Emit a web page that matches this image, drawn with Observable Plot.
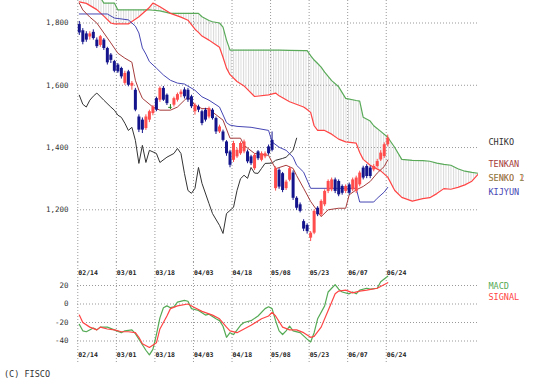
<!DOCTYPE html>
<html><head><meta charset="utf-8">
<script src="https://cdn.jsdelivr.net/npm/d3@7"></script>
<script src="https://cdn.jsdelivr.net/npm/@observablehq/plot@0.6"></script>
<style>
html,body{margin:0;padding:0;background:#fff;}
#chart{position:relative;width:538px;height:385px;overflow:hidden;font-family:"DejaVu Sans Mono",monospace;}
#chart svg{position:absolute;left:0;}
#copy{position:absolute;left:4px;top:369px;font-size:8.5px;color:#333;white-space:pre;}
</style></head><body><div id="chart"><div id="copy">(C) FISCO</div></div>
<script>
// ---- data ----
const tickDays = [0, 11, 22, 33, 44, 55, 66, 77, 88];
const tickLabels = ["02/14","03/01","03/18","04/03","04/18","05/08","05/23","06/07","06/24"];
const priceTicks = [1200, 1400, 1600, 1800];
const macdTicks = [-40, -20, 0, 20];

const opens = [1795,1775,1765,1755,1770,1745,1728,1745,1718,1697, 1676,1665,1654,1606,1643,1597,1584,1498,1488,1461, 1488,1509,1557,1552,1590,1568,1529,1536,1552,1570, 1585,1584,1563,1515,1530,1515,1520,1498,1520,1493, 1450,1450,1418,1386,1359,1370,1380,1386,1386,1370, 1332,1386,1359,1370,1402,1423,1268,1327,1316,1268, 1295,1318,1237,1216,1162,1150,1109,1125,1205,1184, 1216,1259,1264,1296,1291,1275,1259,1280,1264,1259, 1280,1334,1339,1334,1328,1339,1360,1371,1409];
const closes = [1768,1738,1745,1765,1750,1724,1756,1718,1672,1680, 1645,1643,1627,1638,1600,1606,1520,1456,1456,1498, 1515,1530,1520,1590,1552,1541,1529,1557,1570,1578, 1563,1552,1531,1536,1520,1477,1488,1525,1493,1450, 1466,1423,1380,1343,1413,1391,1413,1418,1354,1348, 1375,1364,1380,1380,1380,1391,1332,1273,1262,1289, 1332,1237,1205,1195,1138,1130,1125,1195,1184,1227, 1259,1291,1296,1259,1248,1253,1275,1253,1296,1302, 1318,1302,1307,1307,1339,1355,1382,1409,1430];
const highs = [1805,1782,1772,1772,1778,1752,1760,1750,1722,1702, 1680,1670,1658,1645,1648,1612,1590,1505,1495,1505, 1520,1535,1562,1595,1596,1572,1538,1562,1575,1585, 1592,1590,1568,1542,1536,1520,1526,1530,1525,1498, 1472,1456,1422,1391,1420,1398,1418,1424,1392,1375, 1380,1390,1386,1386,1408,1450,1338,1332,1320,1295, 1338,1325,1242,1222,1168,1155,1130,1200,1210,1232, 1264,1296,1302,1302,1296,1280,1280,1286,1302,1308, 1324,1340,1345,1340,1345,1362,1390,1415,1440];
const lows = [1760,1730,1738,1745,1745,1718,1722,1712,1665,1670, 1640,1638,1620,1600,1595,1584,1515,1448,1445,1455, 1480,1502,1515,1545,1548,1535,1522,1530,1546,1560, 1556,1545,1525,1504,1512,1470,1482,1492,1488,1442, 1445,1418,1372,1335,1352,1365,1375,1380,1348,1342, 1326,1358,1354,1364,1375,1386,1260,1266,1255,1262, 1290,1230,1198,1190,1130,1122,1098,1120,1178,1178, 1210,1252,1258,1252,1242,1247,1252,1247,1258,1252, 1274,1296,1300,1300,1322,1334,1355,1365,1402];

const tenkan = [[0,1864],[1,1842],[3,1819],[5,1800],[7,1768],[9,1736],[11,1703],[13,1687],[15,1674],[16,1616],[17,1584],[18,1558],[21,1530],[23,1520],[26,1520],[28,1530],[30,1552],[31,1563],[33,1536],[35,1525],[37,1525],[38,1514],[41,1488],[43,1430],[46,1430],[47,1407],[50,1381],[54,1375],[55,1353],[56,1332],[59,1343],[61,1333],[62,1310],[64,1269],[66,1227],[68,1195],[69,1178],[71,1200],[74,1205],[76,1205],[77,1248],[79,1264],[81,1275],[83,1291],[85,1318],[87,1339],[88,1360]];
const kijun = [[0,1829],[8,1829],[10,1816],[14,1810],[16,1790],[17,1768],[18,1720],[19,1700],[20,1676],[22,1655],[24,1633],[26,1616],[28,1607],[30,1604],[33,1584],[35,1563],[37,1552],[40,1530],[42,1480],[43,1472],[45,1468],[49,1465],[54,1455],[55,1418],[57,1401],[59,1391],[61,1369],[62,1343],[64,1321],[66,1269],[79,1269],[80,1225],[84,1225],[85,1237],[87,1257],[88,1272]];
const chikou = [[0,1568],[1,1539],[2,1530],[3,1552],[4,1565],[5,1575],[7,1552],[9,1530],[10,1520],[11,1504],[12,1497],[13,1478],[14,1455],[15,1465],[16,1423],[17,1349],[18,1407],[19,1352],[20,1391],[22,1381],[23,1352],[25,1369],[27,1381],[28,1397],[29,1381],[30,1317],[31,1262],[32,1253],[33,1269],[34,1336],[35,1285],[37,1220],[38,1188],[40,1150],[41,1124],[42,1188],[44,1208],[45,1262],[46,1300],[47,1311],[48,1301],[49,1336],[50,1318],[51,1317],[52,1333],[53,1349],[55,1350],[56,1359],[58,1365],[59,1369],[61,1391],[62,1430]];

const spanDays = [0,2,5,7,9,10,11,14,17,20,21,23,26,29,31,33,34,35,37,38,40,41,42,43,45,47,50,54,56,57,60,64,65,66,67,68,69,70,72,74,76,79,80,81,83,84,86,88,90,92,95,98,100,102,104,106,108,110,112,114];
const senkouA = [1868,1863,1843,1822,1800,1797,1797,1797,1820,1850,1864,1852,1831,1819,1809,1780,1770,1758,1745,1737,1722,1690,1655,1634,1612,1598,1564,1569,1575,1566,1547,1530,1522,1513,1470,1455,1455,1455,1443,1427,1418,1414,1384,1362,1343,1337,1325,1305,1262,1240,1228,1236,1239,1252,1268,1266,1272,1280,1292,1317];
const senkouB = [1900,1900,1900,1864,1864,1864,1842,1842,1842,1842,1841,1839,1831,1831,1831,1831,1831,1820,1808,1804,1800,1787,1745,1713,1713,1713,1713,1713,1713,1713,1712,1711,1711,1695,1681,1670,1658,1642,1615,1595,1558,1551,1549,1497,1485,1470,1452,1433,1400,1362,1359,1358,1356,1350,1346,1343,1332,1324,1320,1317];

const macd = [[0,-22],[1,-29],[2,-30],[4,-26],[5,-28],[6,-25],[8,-25],[10,-28],[12,-31],[13,-29],[15,-28],[16,-32],[18,-44],[19,-50],[20,-55],[21,-49],[22,-33],[23,-15],[24,-4],[25,-2],[26,-4],[27,-3],[28,2],[30,4],[31,3],[32,-5],[34,-7],[36,-12],[37,-11],[39,-16],[40,-18],[41,-24],[42,-36],[43,-31],[44,-33],[46,-23],[47,-20],[49,-18],[51,-13],[53,-5],[54,-3],[55,-5],[56,-18],[57,-29],[58,-33],[59,-29],[60,-24],[61,-29],[63,-31],[65,-38],[66,-41],[67,-31],[68,-16],[70,-2],[71,13],[72,17],[73,21],[74,16],[75,13],[77,11],[78,13],[79,11],[80,15],[82,17],[83,16],[85,17],[86,24],[88,30]];
const signal = [[0,-12],[1,-20],[3,-25],[5,-28],[6,-25],[8,-27],[10,-28],[12,-30],[14,-30],[16,-31],[17,-36],[18,-43],[20,-47],[22,-42],[23,-27],[25,-13],[26,-5],[28,-2],[31,0],[33,-4],[35,-8],[38,-12],[40,-16],[42,-25],[43,-29],[45,-31],[47,-27],[49,-23],[52,-16],[54,-13],[55,-9],[56,-13],[58,-25],[60,-28],[62,-28],[64,-31],[66,-36],[67,-35],[69,-25],[71,-7],[73,11],[74,14],[76,15],[78,12],[80,14],[82,15],[85,17],[88,23]];

// ---- tables ----
const candles = opens.map((o, i) => ({day: i, open: o, close: closes[i], high: highs[i], low: lows[i]}));
const cloud = spanDays.map((d, i) => ({day: d, a: senkouA[i], b: senkouB[i]}));

// ---- styles ----
const C = {up: "#ff4d4d", down: "#14148c", doji: "#207a20", tenkan: "#a63c3c", kijun: "#4646b4",
           chikou: "#333333", spanA: "#ff4444", spanB: "#5aaa5a", macd: "#55aa55", signal: "#ff4444"};
const font = "DejaVu Sans Mono";
const grid = {stroke: "#999", strokeOpacity: 1, strokeDasharray: "1,2", strokeWidth: 1};
const xScale = {type: "linear", domain: [0, 114], range: [78.8, 78.8 + 3.505 * 114], axis: null};
const candleColor = d => d.close > d.open ? C.up : d.close < d.open ? C.down : C.doji;

const main = Plot.plot({
  width: 538, height: 262, marginTop: 0, marginBottom: 0, marginLeft: 77, marginRight: 60,
  x: xScale,
  y: {domain: [1200, 1800], range: [209.3, 22.5], axis: null},
  style: {fontFamily: font, background: "transparent", overflow: "visible"},
  marks: [
    Plot.areaY(cloud, {x: "day", y1: "a", y2: "b", fill: "url(#kumoHatch)", clip: true}),
    Plot.ruleY(priceTicks, {y: d => d, ...grid}),
    Plot.ruleX(tickDays, {x: d => d, dx: -1.5, ...grid}),
    Plot.line(cloud, {x: "day", y: "b", stroke: C.spanB, strokeWidth: 1.2, clip: true}),
    Plot.line(cloud, {x: "day", y: "a", stroke: C.spanA, strokeWidth: 1.2, clip: true}),
    Plot.line(chikou, {x: d => d[0], y: d => d[1], stroke: C.chikou, strokeWidth: 1}),
    Plot.line(kijun, {x: d => d[0], y: d => d[1], stroke: C.kijun, strokeWidth: 1}),
    Plot.line(tenkan, {x: d => d[0], y: d => d[1], stroke: C.tenkan, strokeWidth: 1}),
    Plot.ruleX(candles, {x: "day", y1: "low", y2: "high", stroke: candleColor, strokeWidth: 1}),
    Plot.ruleX(candles, {x: "day", y1: "open", y2: "close", stroke: candleColor, strokeWidth: 3}),
    Plot.ruleY(candles.filter(d => d.open === d.close), {y: "close", x1: d => d.day - 0.5, x2: d => d.day + 0.5, stroke: C.doji, strokeWidth: 1}),
    Plot.text(priceTicks, {y: d => d, text: d => d3.format(",")(d), frameAnchor: "left", textAnchor: "end", dx: -9, fontSize: 7.5, fill: "#333"}),
    Plot.text(["CHIKO"], {frameAnchor: "top-right", textAnchor: "start", dx: 10, dy: 138.5, fontSize: 8.5, fill: C.chikou}),
    Plot.text(["TENKAN"], {frameAnchor: "top-right", textAnchor: "start", dx: 10, dy: 160, fontSize: 8.5, fill: C.tenkan}),
    Plot.text(["SENKO 1"], {frameAnchor: "top-right", textAnchor: "start", dx: 10, dy: 174, fontSize: 8.5, fill: C.spanA}),
    Plot.text(["SENKO 2"], {frameAnchor: "top-right", textAnchor: "start", dx: 10, dy: 174, fontSize: 8.5, fill: C.spanB, fillOpacity: 0.75}),
    Plot.text(["KIJYUN"], {frameAnchor: "top-right", textAnchor: "start", dx: 10, dy: 188.5, fontSize: 8.5, fill: C.kijun})
  ]
});

// hatch pattern for the cloud: thin light-grey vertical lines
const defs = d3.select(main).insert("defs", ":first-child");
const pat = defs.append("pattern").attr("id", "kumoHatch").attr("patternUnits", "userSpaceOnUse")
  .attr("x", 78).attr("y", 0).attr("width", 2.5).attr("height", 4);
pat.append("rect").attr("x", 0).attr("y", 0).attr("width", 1).attr("height", 4).attr("fill", "#dadada");

const lower = Plot.plot({
  width: 538, height: 100, marginTop: 0, marginBottom: 0, marginLeft: 77, marginRight: 60,
  x: xScale,
  y: {domain: [-40, 20], range: [78.5, 23], axis: null},
  style: {fontFamily: font, background: "transparent", overflow: "visible"},
  marks: [
    Plot.ruleY(macdTicks, {y: d => d, ...grid}),
    Plot.ruleX(tickDays, {x: d => d, dx: -1.5, ...grid}),
    Plot.line(macd, {x: d => d[0], y: d => d[1], stroke: C.macd, strokeWidth: 1.2}),
    Plot.line(signal, {x: d => d[0], y: d => d[1], stroke: C.signal, strokeWidth: 1.2}),
    Plot.text(macdTicks, {y: d => d, text: d => String(d), frameAnchor: "left", textAnchor: "end", dx: -9, fontSize: 7.5, fill: "#333"}),
    Plot.text(tickDays, {x: d => d, text: (d, i) => tickLabels[i], frameAnchor: "top", textAnchor: "start", dx: -1, dy: 7.5, fontSize: 6.5, fontWeight: "bold", fill: "#222"}),
    Plot.text(tickDays, {x: d => d, text: (d, i) => tickLabels[i], frameAnchor: "bottom", textAnchor: "start", dx: -1, dy: -6, fontSize: 6.5, fontWeight: "bold", fill: "#222"}),
    Plot.text(["MACD"], {frameAnchor: "top-right", textAnchor: "start", dx: 10, dy: 20.5, fontSize: 8.5, fill: C.macd}),
    Plot.text(["SIGNAL"], {frameAnchor: "top-right", textAnchor: "start", dx: 10, dy: 31, fontSize: 8.5, fill: C.signal})
  ]
});

main.style.top = "0px";
lower.style.top = "262px";
const chart = document.getElementById("chart");
chart.appendChild(main);
chart.appendChild(lower);
</script></body></html>
